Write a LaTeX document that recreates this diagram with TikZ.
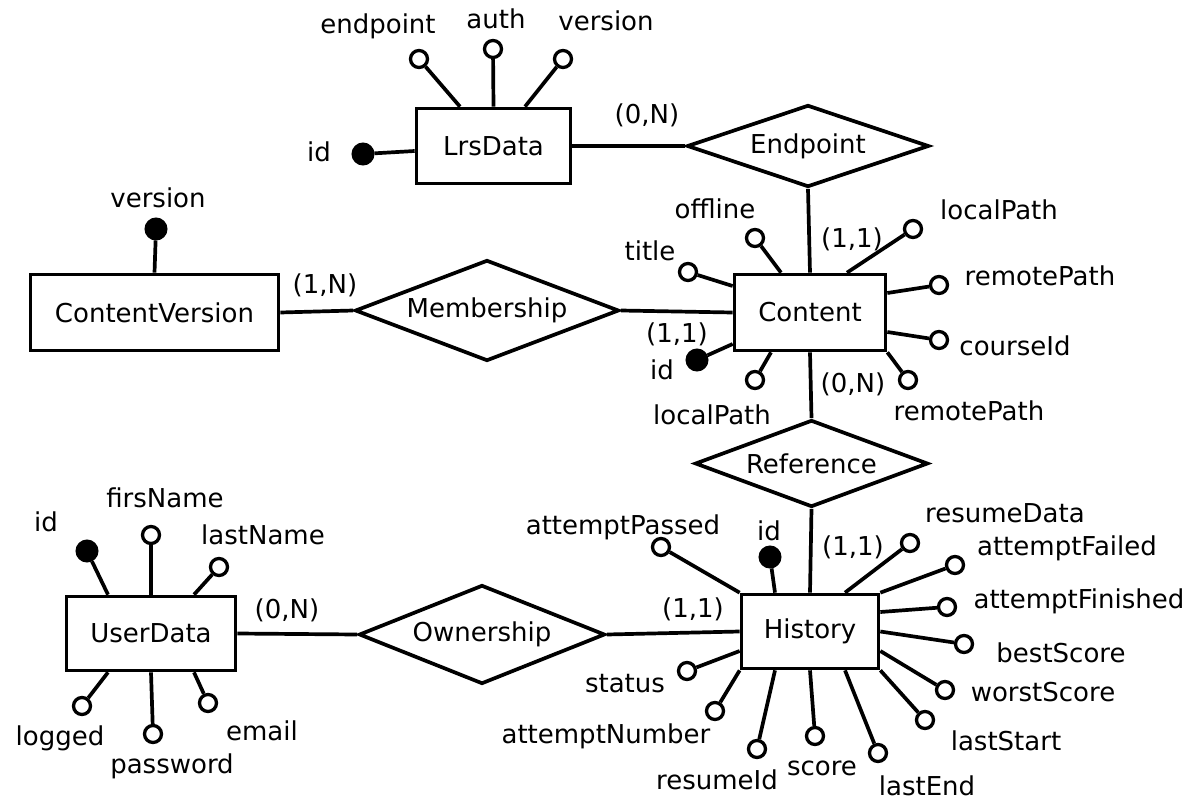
\documentclass[tikz,border=0pt]{standalone}
\usepackage{fontspec}
\setmainfont{DejaVu Sans}
\usetikzlibrary{shapes.geometric}
\begin{document}
\begin{tikzpicture}[x=1pt,y=-1pt,
  every node/.style={font=\fontsize{26}{31}\selectfont},
  ent/.style={draw,line width=3.7pt,rectangle,inner sep=0pt},
  rel/.style={draw,line width=3.7pt,diamond,inner sep=0pt},
  att/.style={draw,circle,line width=3.3pt,fill=white,inner sep=0pt,minimum size=17pt},
  key/.style={draw,circle,line width=1pt,fill=black,inner sep=0pt,minimum size=22pt},
  lbl/.style={inner sep=0pt,text height=0.75em,text depth=0.2em,yshift=-7pt},
  conn/.style={line width=3.7pt},
]
\useasboundingbox (0,0) rectangle (1200,800);

% entities
\node[ent,minimum width=154pt,minimum height=75pt] (lrs) at (493.5,146) {LrsData};
\node[ent,minimum width=248pt,minimum height=76pt] (cv) at (154.5,312.5) {ContentVersion};
\node[ent,minimum width=151pt,minimum height=76pt] (content) at (810,312.5) {Content};
\node[ent,minimum width=137pt,minimum height=74pt] (hist) at (810,631.5) {History};
\node[ent,minimum width=169pt,minimum height=74pt] (user) at (151,633.5) {UserData};

% relations
\node[rel,minimum width=242pt,minimum height=82pt,aspect=2.95] (endp) at (808,146) {Endpoint};
\node[rel,minimum width=264pt,minimum height=101pt,aspect=2.6] (memb) at (487,310.5) {Membership};
\node[rel,minimum width=233pt,minimum height=87pt,aspect=2.68] (ref) at (811.5,463.5) {Reference};
\node[rel,minimum width=246pt,minimum height=99pt,aspect=2.48] (own) at (482,634.5) {Ownership};

% relation connectors
\draw[conn] (lrs.east) -- (endp.west);
\draw[conn] (endp.south) -- (content.north);
\draw[conn] (cv.east) -- (memb.west);
\draw[conn] (memb.east) -- (content.west);
\draw[conn] (content.south) -- (ref.north);
\draw[conn] (ref.south) -- (hist.north);
\draw[conn] (user.east) -- (own.west);
\draw[conn] (own.east) -- (hist.west);

% cardinalities
\node[lbl] (c1) at (647,114) {(0,N)};
\node[lbl] (c2) at (325,284) {(1,N)};
\node[lbl] (c3) at (677,333) {(1,1)};
\node[lbl] (c4) at (852,238) {(1,1)};
\node[lbl] (c5) at (853,383) {(0,N)};
\node[lbl] (c6) at (853,546) {(1,1)};
\node[lbl] (c7) at (693,608) {(1,1)};
\node[lbl] (c8) at (287,609) {(0,N)};

% LrsData attributes
\node[att] (lEnd) at (419,59) {};
\node[att] (lAuth) at (493,49) {};
\node[att] (lVer) at (563,59) {};
\node[key] (lId) at (363,154) {};
\draw[conn] ([xshift=-33.5pt]lrs.north) -- (lEnd);
\draw[conn] (lrs.north) -- (lAuth);
\draw[conn] ([xshift=31.5pt]lrs.north) -- (lVer);
\draw[conn] ([yshift=-5pt]lrs.west) -- (lId);
\node[lbl] (tlEnd) at (378,24) {endpoint};
\node[lbl] (tlAuth) at (496,19) {auth};
\node[lbl] (tlVer) at (606,21) {version};
\node[lbl] (tlId) at (319,152) {id};

% ContentVersion attribute
\node[key] (vVer) at (156,229) {};
\draw[conn] (cv.north) -- (vVer);
\node[lbl] (tvVer) at (158,198) {version};

% Content attributes
\node[att] (cTitle) at (688,272) {};
\node[att] (cOff) at (755,238) {};
\node[att] (cLp1) at (913,229) {};
\node[att] (cRp1) at (939,285) {};
\node[att] (cCid) at (939,340) {};
\node[att] (cRp2) at (908,380) {};
\node[att] (cLp2) at (755,380) {};
\node[key] (cId) at (697,360) {};
\draw[conn] ([yshift=26.5pt]content.west) -- (cTitle);
\draw[conn] ([xshift=-29pt]content.north) -- (cOff);
\draw[conn] ([xshift=37pt]content.north) -- (cLp1);
\draw[conn] ([yshift=19.5pt]content.east) -- (cRp1);
\draw[conn] ([yshift=-19.5pt]content.east) -- (cCid);
\draw[conn] (content.south east) -- (cRp2);
\draw[conn] ([xshift=-39pt]content.south) -- (cLp2);
\draw[conn] ([yshift=-31.5pt]content.west) -- (cId);
\node[lbl] (tcTitle) at (650,251) {title};
\node[lbl] (tcOff) at (715,209) {offline};
\node[lbl] (tcLp1) at (999,210) {localPath};
\node[lbl] (tcRp1) at (1040,276) {remotePath};
\node[lbl] (tcCid) at (1015,346) {courseId};
\node[lbl] (tcRp2) at (969,411) {remotePath};
\node[lbl] (tcLp2) at (712,415) {localPath};
\node[lbl] (tcId) at (662,370) {id};

% History attributes
\node[att] (hPass) at (661,547) {};
\node[key] (hId) at (770,557) {};
\node[att] (hRd) at (910,543) {};
\node[att] (hFail) at (955,565) {};
\node[att] (hFin) at (947,607) {};
\node[att] (hBest) at (964,644) {};
\node[att] (hWorst) at (945,690) {};
\node[att] (hLs) at (925,720) {};
\node[att] (hLe) at (878,753) {};
\node[att] (hScore) at (815,736) {};
\node[att] (hRid) at (757,749) {};
\node[att] (hNum) at (715,711) {};
\node[att] (hStat) at (687,671) {};
\draw[conn] (hist.north west) -- (hPass);
\draw[conn] ([xshift=-35pt]hist.north) -- (hId);
\draw[conn] ([xshift=35pt]hist.north) -- (hRd);
\draw[conn] (hist.north east) -- (hFail);
\draw[conn] ([yshift=19.5pt]hist.east) -- (hFin);
\draw[conn] (hist.east) -- (hBest);
\draw[conn] ([yshift=-19.5pt]hist.east) -- (hWorst);
\draw[conn] (hist.south east) -- (hLs);
\draw[conn] ([xshift=35pt]hist.south) -- (hLe);
\draw[conn] (hist.south) -- (hScore);
\draw[conn] ([xshift=-35pt]hist.south) -- (hRid);
\draw[conn] (hist.south west) -- (hNum);
\draw[conn] ([yshift=-19.5pt]hist.west) -- (hStat);
\node[lbl] (thPass) at (623,525) {attemptPassed};
\node[lbl] (thId) at (769,531) {id};
\node[lbl] (thRd) at (1005,513) {resumeData};
\node[lbl] (thFail) at (1067,546) {attemptFailed};
\node[lbl] (thFin) at (1079,599) {attemptFinished};
\node[lbl] (thBest) at (1061,653) {bestScore};
\node[lbl] (thWorst) at (1043,692) {worstScore};
\node[lbl] (thLs) at (1006,741) {lastStart};
\node[lbl] (thLe) at (927,786) {lastEnd};
\node[lbl] (thScore) at (822,766) {score};
\node[lbl] (thRid) at (717,780) {resumeId};
\node[lbl] (thNum) at (606,734) {attemptNumber};
\node[lbl] (thStat) at (625,683) {status};

% UserData attributes
\node[key] (uId) at (87,551) {};
\node[att] (uFirst) at (151,535) {};
\node[att] (uLast) at (219,567) {};
\node[att] (uLog) at (82,706) {};
\node[att] (uPw) at (153,734) {};
\node[att] (uMail) at (208,703) {};
\draw[conn] ([xshift=-43pt]user.north) -- (uId);
\draw[conn] (user.north) -- (uFirst);
\draw[conn] ([xshift=43pt]user.north) -- (uLast);
\draw[conn] ([xshift=-43pt]user.south) -- (uLog);
\draw[conn] (user.south) -- (uPw);
\draw[conn] ([xshift=43pt]user.south) -- (uMail);
\node[lbl] (tuId) at (46,522) {id};
\node[lbl] (tuFirst) at (165,498) {firsName};
\node[lbl] (tuLast) at (263,535) {lastName};
\node[lbl] (tuLog) at (60,736) {logged};
\node[lbl] (tuPw) at (172,764) {password};
\node[lbl] (tuMail) at (262,731) {email};
\end{tikzpicture}
\end{document}
